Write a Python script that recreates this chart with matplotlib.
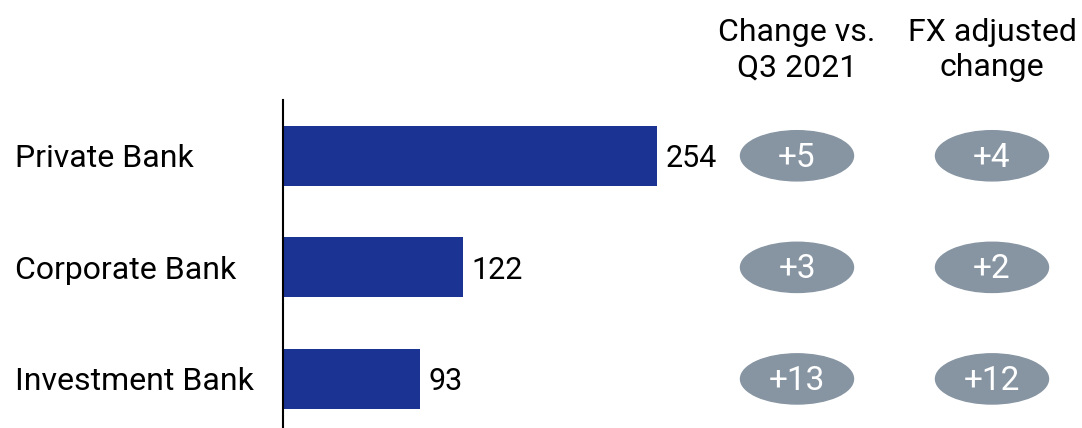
import matplotlib
matplotlib.use("Agg")
import matplotlib.pyplot as plt
from matplotlib.patches import Ellipse

# Дані
categories = ["Private Bank", "Corporate Bank", "Investment Bank"]
values = [254, 122, 93]
change_vs_q3 = ["+5", "+3", "+13"]
fx_adjusted = ["+4", "+2", "+12"]
headers = ["Change vs.\nQ3 2021", "FX adjusted\nchange"]

bar_color = "#1b3393"
pill_color = "#8795a3"
plt.rcParams["font.family"] = ["Roboto", "DejaVu Sans"]

W, H = 1082, 428
fig = plt.figure(figsize=(W / 100, H / 100), dpi=100)

# Вісь починається з x=283 px, верх лінії на y=100 px
px_per_unit = 1.472
ax = fig.add_axes([283 / W, 0, 1 - 283 / W, (H - 100) / H])
ax.set_xlim(0, (W - 283) / px_per_unit)
ax.set_ylim(2.44, -0.5)

ypos = list(range(len(categories)))
ax.barh(ypos, values, height=0.54, color=bar_color)

for y, v in zip(ypos, values):
    ax.annotate(str(v), xy=(v, y), xytext=(9, -3), textcoords="offset pixels",
                va="center", ha="left", fontsize=22, color="black")

for spine in ["top", "right", "bottom"]:
    ax.spines[spine].set_visible(False)
ax.spines["left"].set_linewidth(1.5)
ax.set_xticks([])
ax.set_yticks([])

# Підписи категорій
for y, name in zip(ypos, categories):
    ax.annotate(name, xy=(0, y), xycoords=("axes fraction", "data"),
                xytext=(15 - 283, -3), textcoords="offset pixels",
                va="center", ha="left", fontsize=23, color="black")

# Колонки з овалами
col_x = [(797 - 283) / px_per_unit, (992 - 283) / px_per_unit]
pill_w = 113 / px_per_unit
pill_h = 0.45
for cx, labels in zip(col_x, [change_vs_q3, fx_adjusted]):
    for y, lab in zip(ypos, labels):
        ax.add_patch(Ellipse((cx, y), pill_w, pill_h, color=pill_color, clip_on=False))
        ax.annotate(lab, xy=(cx, y), xytext=(0, -2), textcoords="offset pixels",
                    ha="center", va="center", fontsize=24, color="white")

for cx, head in zip([797, 992], headers):
    fig.text(cx / W, 1 - 50 / H, head, ha="center", va="center",
             fontsize=23, color="black", linespacing=1.3)

fig.savefig("out.png", dpi=100)
